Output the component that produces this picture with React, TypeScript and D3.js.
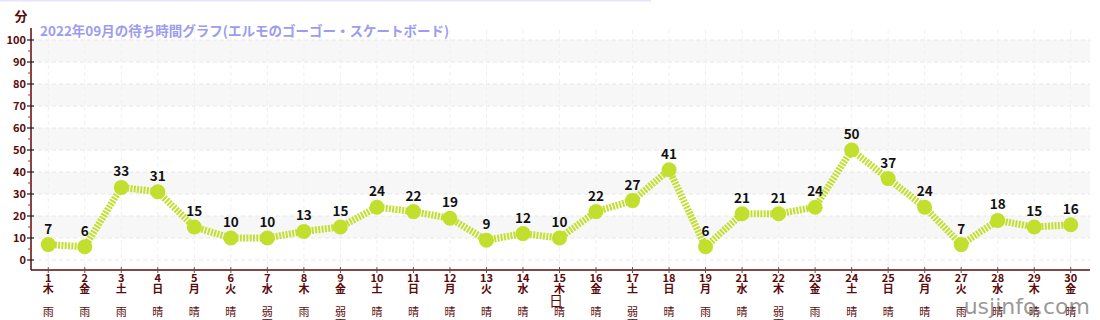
import React from "react";
import * as d3 from "d3";

const days = ["1","2","3","4","5","6","7","8","9","10","11","12","13","14","15","16","17","18","19","21","22","23","24","25","26","27","28","29","30"];
const weekdays = ["木","金","土","日","月","火","水","木","金","土","日","月","火","水","木","金","土","日","月","水","木","金","土","日","月","火","水","木","金"];
const weather = ["雨","雨","雨","晴","晴","晴","弱雨","雨","弱雨","晴","晴","晴","晴","晴","晴","晴","弱雨","晴","雨","晴","弱雨","雨","晴","晴","晴","雨","晴","晴","晴"];
const waits = [7,6,33,31,15,10,10,13,15,24,22,19,9,12,10,22,27,41,6,21,21,24,50,37,24,7,18,15,16];
const yTicks = [0,10,20,30,40,50,60,70,80,90,100];
const minorTicks = [5,15,25,35,45,55,65,75,85,95];
const bands = [10,30,50,70,90];

const W = 1100, H = 320;
const left = 31, right = 1090, top = 30, bottom = 270;
const FONT = "'Noto Sans CJK JP', 'Noto Sans', sans-serif";
const AX = "#5a0a0a";
const LINE = "#c3df2e";

export default function App() {
  const x = d3.scalePoint<string>().domain(days).range([30, 1089]).padding(0.5);
  const y = d3.scaleLinear().domain([0, 100]).range([260, 40]);
  const line = d3.line<number>().x((_, i) => x(days[i])!).y(d => y(d));

  return (
    <svg width={W} height={H} style={{ position: "absolute", left: 0, top: 0, fontFamily: FONT }}>
      <rect x={0} y={0} width={651} height={1.5} fill="#e4e4fb" />
      {bands.map(b => (
        <rect key={b} x={left} y={y(b + 10)} width={right - left} height={y(b) - y(b + 10)} fill="#f7f7f7" />
      ))}
      {yTicks.map(t => (
        <line key={t} x1={left} x2={right} y1={y(t)} y2={y(t)} stroke="#e8e8e8" strokeDasharray="4,3" />
      ))}
      {days.map(d => (
        <line key={d} x1={x(d)} x2={x(d)} y1={top} y2={bottom} stroke="#f0f0f0" strokeDasharray="4,3" />
      ))}
      <line x1={left} x2={left} y1={top - 2} y2={bottom} stroke={AX} strokeWidth={1.5} />
      <line x1={left} x2={right} y1={bottom} y2={bottom} stroke={AX} strokeWidth={1.5} />
      {yTicks.map(t => (
        <g key={t}>
          <line x1={left - 4} x2={left + 3} y1={y(t)} y2={y(t)} stroke="#222" strokeWidth={1.2} />
          <text x={left - 5} y={y(t)} dy="0.35em" textAnchor="end" fontSize={11} fontWeight="bold" fill={AX}>{t}</text>
        </g>
      ))}
      {minorTicks.map(t => (
        <line key={t} x1={left - 3} x2={left} y1={y(t)} y2={y(t)} stroke="#d02020" strokeWidth={1} />
      ))}
      {days.map((d, i) => (
        <g key={d}>
          <line x1={x(d)} x2={x(d)} y1={bottom - 3} y2={bottom + 3} stroke="#555" strokeWidth={1} />
          <text x={x(d)} y={282} textAnchor="middle" fontSize={11} fontWeight="bold" fill={AX}>{d}</text>
          <text x={x(d)} y={293} textAnchor="middle" fontSize={11} fontWeight="bold" fill={AX}>{weekdays[i]}</text>
          {weather[i].length === 1 ? (
            <text x={x(d)} y={316} textAnchor="middle" fontSize={11} fill={AX}>{weather[i]}</text>
          ) : (
            <>
              <text x={x(d)} y={316} textAnchor="middle" fontSize={11} fill={AX}>{weather[i][0]}</text>
              <text x={x(d)} y={328} textAnchor="middle" fontSize={11} fill={AX}>{weather[i][1]}</text>
            </>
          )}
        </g>
      ))}
      <text x={556} y={306} textAnchor="middle" fontSize={14} fill={AX}>日</text>
      <text x={21} y={21} textAnchor="middle" fontSize={13} fontWeight="bold" fill={AX}>分</text>
      <text x={40} y={36} fontSize={13.5} fontWeight="bold" fill="#9c9cf0">2022年09月の待ち時間グラフ(エルモのゴーゴー・スケートボード)</text>
      <path d={line(waits) || ""} fill="none" stroke={LINE} strokeWidth={7} strokeDasharray="2,1.3" />
      {waits.map((v, i) => (
        <circle key={i} cx={x(days[i])} cy={y(v)} r={7.5} fill={LINE} />
      ))}
      {waits.map((v, i) => (
        <text key={i} x={x(days[i])} y={y(v) - 11} textAnchor="middle" fontSize={13.5} fontWeight="bold" fill="#111">{v}</text>
      ))}
      <text x={1090} y={314} textAnchor="end" fontSize={22} fontFamily="'DejaVu Sans', sans-serif" fill="#777" fillOpacity={0.75}>usjinfo.com</text>
    </svg>
  );
}
